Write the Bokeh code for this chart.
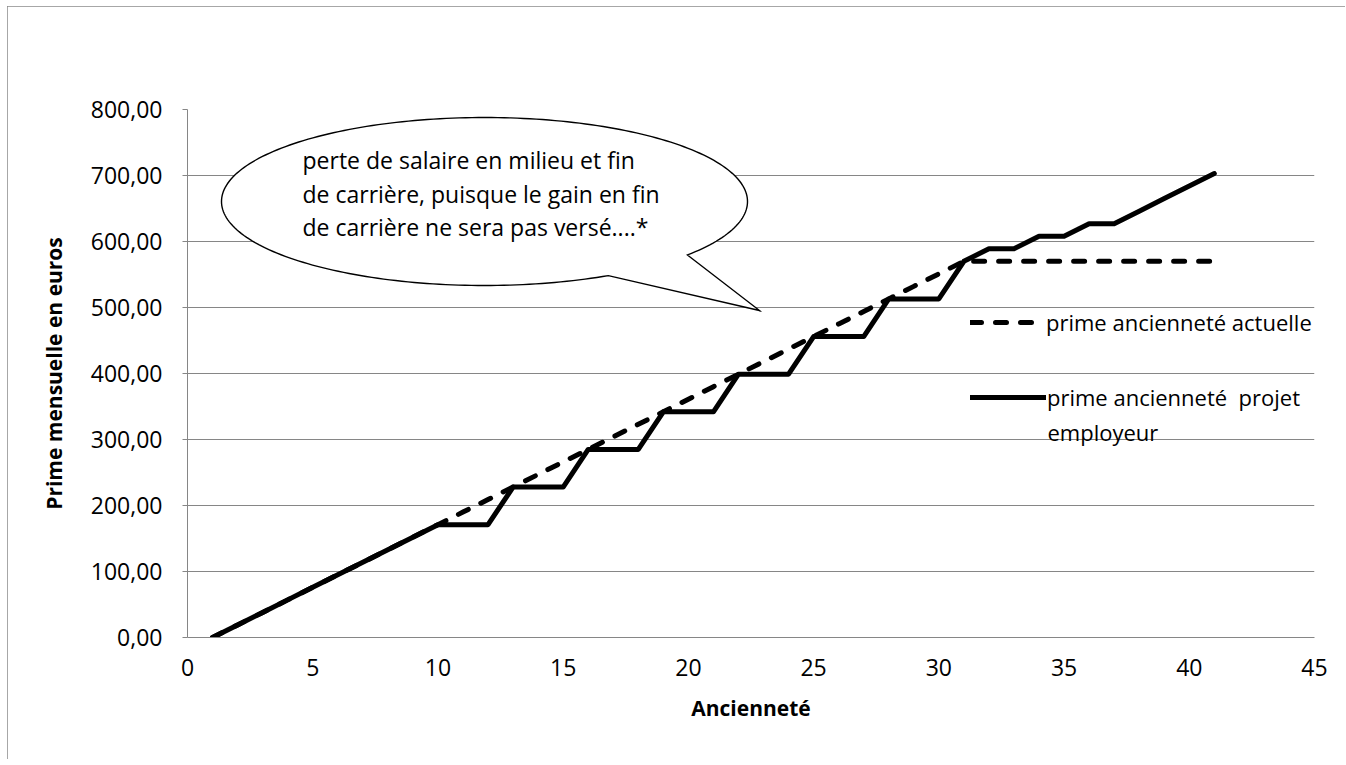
import math
from bokeh.plotting import figure
from bokeh.models import Legend, LegendItem, Label, Range1d
from bokeh.embed import file_html
from bokeh.resources import INLINE

# ---------------- data ----------------
anciennete = [1, 2, 3, 4, 5, 6, 7, 8, 9, 10,
              11, 12, 13, 14, 15, 16, 17, 18, 19, 20,
              21, 22, 23, 24, 25, 26, 27, 28, 29, 30,
              31, 32, 33, 34, 35, 36, 37, 38, 39, 40, 41]
prime_actuelle = [0, 19, 38, 57, 76, 95, 114, 133, 152, 171,
                  190, 209, 228, 247, 266, 285, 304, 323, 342, 361,
                  380, 399, 418, 437, 456, 475, 494, 513, 532, 551,
                  570, 570, 570, 570, 570, 570, 570, 570, 570, 570, 570]
prime_projet = [0, 19, 38, 57, 76, 95, 114, 133, 152, 171,
                171, 171, 228, 228, 228, 285, 285, 285, 342, 342,
                342, 399, 399, 399, 456, 456, 456, 513, 513, 513,
                570, 589, 589, 608, 608, 627, 627, 646, 665, 684, 703]
x_ticks = [0, 5, 10, 15, 20, 25, 30, 35, 40, 45]
y_ticks = [0, 100, 200, 300, 400, 500, 600, 700, 800]
y_tick_labels = ["0,00", "100,00", "200,00", "300,00", "400,00",
                 "500,00", "600,00", "700,00", "800,00"]
serie_labels = ["prime ancienneté actuelle", "prime ancienneté  projet", "employeur"]
callout_lines = ["perte de salaire en milieu et fin",
                 "de carrière, puisque le gain en fin",
                 "de carrière ne sera pas versé....*"]
x_title = "Ancienneté"
y_title = "Prime mensuelle en euros"

# ---------------- layout ----------------
FONT = "Open Sans"
OFF_X, OFF_Y = 7, 6            # chart-area position on the page
W, H = 1338, 753
F_LEFT, F_RIGHT, F_TOP, F_BOTTOM = 187, 1314, 109, 637   # frame in page px
XMIN, XMAX, YMIN, YMAX = 0, 45, 0, 800
GRID = "#868686"


def px2x(px):
    return XMIN + (px - F_LEFT) * (XMAX - XMIN) / (F_RIGHT - F_LEFT)


def px2y(py):
    return YMIN + (F_BOTTOM - py) * (YMAX - YMIN) / (F_BOTTOM - F_TOP)


p = figure(width=W, height=H, output_backend="svg", toolbar_location=None,
           x_range=Range1d(XMIN, XMAX), y_range=Range1d(YMIN, YMAX),
           min_border_left=F_LEFT - OFF_X, min_border_right=OFF_X + W - F_RIGHT,
           min_border_top=F_TOP - OFF_Y, min_border_bottom=OFF_Y + H - F_BOTTOM)
p.styles = {"outline": "1.5px solid #8a8a8a", "outline-offset": "-1px",
            "margin-left": f"{OFF_X}px", "margin-top": f"{OFF_Y}px"}
p.outline_line_color = None
p.background_fill_color = "white"
p.border_fill_color = "white"

p.xgrid.visible = False
p.ygrid.grid_line_color = GRID
p.ygrid.grid_line_width = 1

p.xaxis.ticker = x_ticks
p.yaxis.ticker = y_ticks
p.yaxis.major_label_overrides = {v: l for v, l in zip(y_ticks, y_tick_labels)}
for ax in (p.xaxis[0], p.yaxis[0]):
    ax.axis_line_color = GRID
    ax.axis_line_width = 1
    ax.major_tick_line_color = GRID
    ax.minor_tick_line_color = None
    ax.major_tick_in = 0
    ax.major_label_text_font = FONT
    ax.major_label_text_font_size = "23px"
    ax.major_label_text_color = "black"
    ax.axis_label_text_font = FONT
    ax.axis_label_text_font_size = "21px"
    ax.axis_label_text_font_style = "bold"
    ax.axis_label_text_color = "black"
p.xaxis.major_tick_out = 0
p.yaxis.major_tick_out = 5
p.xaxis.major_label_standoff = 21
p.yaxis.major_label_standoff = 20
p.xaxis.axis_label = x_title
p.yaxis.axis_label = y_title
p.xaxis.axis_label_standoff = 15
p.yaxis.axis_label_standoff = 20

r1 = p.line(anciennete, prime_actuelle, line_color="black", line_width=5,
            line_dash="11 14", line_cap="round")
r2 = p.line(anciennete, prime_projet, line_color="black", line_width=5,
            line_join="round", line_cap="round")

# ---------------- legend ----------------
def make_legend(label, rend, glyph_w, standoff, center_py):
    h = 30
    leg = Legend(items=[LegendItem(label=label, renderers=[rend])],
                 location=(970 - F_LEFT, F_BOTTOM - center_py - h / 2),
                 glyph_width=glyph_w, glyph_height=h, label_height=h,
                 label_standoff=standoff, padding=0, margin=0, spacing=0,
                 border_line_alpha=0, background_fill_alpha=0,
                 label_text_font=FONT, label_text_font_size="22px",
                 label_text_color="black")
    p.add_layout(leg)


make_legend(serie_labels[0], r1, 67, 9, 322)
make_legend(serie_labels[1], r2, 76, 1, 397)
p.add_layout(Label(x=px2x(1047), y=px2y(431), text=serie_labels[2],
                   text_font=FONT, text_font_size="22px", text_color="black",
                   text_baseline="middle"))

# ---------------- callout bubble ----------------
cx, cy, a, b = 484, 201, 263, 84
tip = (759, 310)
t0, t1 = math.radians(61.9), math.radians(399.5)
n = 240
bx, by = [], []
for i in range(n + 1):
    t = t0 + (t1 - t0) * i / n
    bx.append(px2x(cx + a * math.cos(t)))
    by.append(px2y(cy + b * math.sin(t)))
bx.append(px2x(tip[0]))
by.append(px2y(tip[1]))
p.patch(bx, by, fill_color="white", line_color="black", line_width=1.4,
        line_join="miter")

for line, py in zip(callout_lines, [159, 193, 226]):
    p.add_layout(Label(x=px2x(302), y=px2y(py), text=line,
                       text_font=FONT, text_font_size="23px",
                       text_color="black", text_baseline="middle"))

open("out.html", "w").write(file_html(p, INLINE))
